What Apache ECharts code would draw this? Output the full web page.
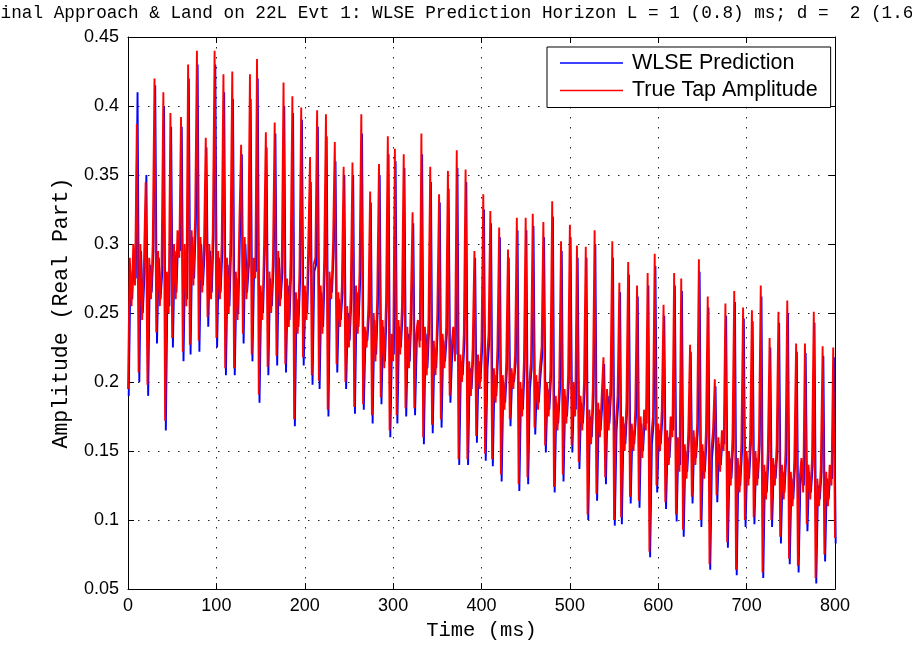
<!DOCTYPE html>
<html>
<head>
<meta charset="utf-8">
<title>WLSE Prediction</title>
<script src="https://cdn.jsdelivr.net/npm/echarts@6/dist/echarts.min.js"></script>
<style>
html, body { margin: 0; padding: 0; background: #fff; }
#chart { width: 912px; height: 646px; }
</style>
</head>
<body>
<div id="chart"></div>
<script>
// 标题和图例
var titleText = 'Final Approach & Land on 22L Evt 1: WLSE Prediction Horizon L = 1 (0.8) ms; d =  2 (1.6) ms';
var seriesNames = ['WLSE Prediction', 'True Tap Amplitude'];

// 坐标轴范围
var xRange = [0, 800, 100];
var yRange = [0.05, 0.45, 0.05];

// 采样间隔 (ms)，预测曲线相对真实曲线的时移 (ms)
var sampleMs = 2;
var predLagMs = 0.8;

// 真实抽头幅度 (从图上读出，每 2 ms 一个点)
var trueAmp = [
    .195,.29,.255,.30,.27,.387,.207,.30,.245,.285,.345,.198,.29,.26,.30,.42,.236,.295,.255,.285,.41,.172,.28,.25,.395,
    .232,.30,.26,.31,.29,.392,.222,.30,.255,.43,.227,.31,.27,.32,.44,.23,.305,.265,.30,.377,.247,.30,.26,.31,.44,
    .232,.295,.26,.30,.423,.21,.29,.25,.305,.425,.21,.28,.245,.315,.372,.235,.305,.26,.29,.423,.22,.29,.275,.434,.191,
    .27,.245,.30,.381,.211,.28,.25,.29,.388,.219,.295,.255,.285,.417,.213,.275,.24,.29,.407,.173,.265,.235,.28,.399,.218,
    .27,.245,.30,.363,.205,.285,.29,.397,.201,.27,.235,.29,.394,.18,.28,.26,.30,.374,.213,.265,.24,.27,.356,.20,.255,
    .225,.265,.359,.182,.27,.235,.28,.394,.184,.24,.225,.255,.338,.176,.25,.215,.262,.358,.189,.245,.21,.26,.378,.165,.235,
    .215,.369,.176,.245,.22,.255,.365,.181,.24,.21,.255,.323,.181,.235,.245,.225,.38,.16,.24,.205,.245,.356,.169,.23,.205,
    .25,.336,.173,.235,.21,.24,.353,.19,.225,.24,.215,.368,.144,.22,.20,.235,.354,.144,.215,.19,.225,.295,.161,.22,.195,
    .23,.336,.148,.215,.235,.324,.144,.21,.185,.225,.312,.133,.205,.18,.215,.296,.173,.21,.195,.22,.319,.126,.20,.175,.215,
    .319,.131,.20,.215,.322,.167,.205,.18,.21,.225,.316,.154,.20,.175,.21,.331,.124,.19,.165,.20,.302,.133,.195,.17,.205,
    .314,.154,.20,.175,.299,.142,.19,.165,.20,.298,.104,.18,.155,.195,.31,.119,.185,.16,.19,.218,.131,.195,.165,.20,.302,
    .10,.17,.19,.272,.102,.175,.15,.185,.287,.117,.17,.15,.18,.27,.114,.175,.145,.18,.165,.279,.077,.16,.175,.293,.125,
    .17,.15,.18,.256,.113,.165,.14,.175,.16,.279,.104,.16,.135,.275,.093,.155,.13,.165,.227,.117,.165,.14,.17,.289,.10,
    .155,.13,.165,.262,.068,.15,.165,.202,.118,.16,.135,.165,.15,.257,.084,.15,.125,.16,.266,.064,.145,.12,.155,.254,.10,
    .15,.125,.16,.252,.102,.15,.125,.16,.27,.062,.14,.115,.15,.232,.10,.145,.125,.155,.251,.088,.14,.115,.15,.259,.072,
    .135,.11,.145,.228,.067,.13,.145,.12,.228,.097,.14,.115,.145,.251,.058,.13,.11,.14,.226,.075,.135,.11,.14,.125,.225,
    .087
];

// WLSE 预测值
var predAmp = [
    .19,.28,.26,.295,.275,.41,.20,.295,.25,.28,.35,.19,.285,.265,.295,.415,.228,.29,.26,.28,.40,.165,.275,.255,.385,
    .225,.295,.265,.305,.295,.385,.215,.295,.26,.42,.22,.305,.275,.315,.43,.222,.30,.27,.295,.37,.24,.295,.265,.305,.43,
    .225,.29,.265,.295,.41,.205,.285,.255,.30,.405,.205,.275,.25,.31,.365,.228,.30,.265,.285,.405,.215,.285,.28,.42,.185,
    .265,.25,.295,.37,.205,.275,.255,.285,.38,.212,.29,.26,.28,.40,.207,.27,.245,.285,.395,.168,.26,.24,.275,.39,.212,
    .265,.25,.295,.345,.198,.28,.285,.385,.195,.265,.24,.285,.378,.175,.275,.265,.295,.36,.207,.26,.245,.265,.35,.195,.25,
    .23,.26,.35,.177,.265,.24,.275,.38,.18,.235,.23,.25,.33,.17,.245,.22,.257,.35,.184,.24,.215,.255,.365,.16,.23,
    .22,.36,.17,.24,.225,.25,.355,.175,.235,.215,.25,.315,.176,.23,.24,.23,.365,.155,.235,.21,.24,.345,.163,.225,.21,
    .245,.33,.167,.23,.215,.235,.34,.185,.22,.235,.22,.355,.14,.215,.205,.23,.345,.14,.21,.195,.22,.29,.156,.215,.20,
    .225,.325,.143,.21,.23,.315,.139,.205,.19,.22,.305,.128,.20,.185,.21,.29,.168,.205,.20,.215,.31,.121,.195,.18,.21,
    .31,.126,.195,.21,.313,.162,.20,.185,.205,.22,.305,.149,.195,.18,.205,.32,.12,.185,.17,.195,.295,.128,.19,.175,.20,
    .305,.149,.195,.18,.29,.137,.185,.17,.195,.29,.10,.175,.16,.19,.30,.114,.18,.165,.185,.213,.126,.19,.17,.195,.29,
    .096,.165,.185,.265,.097,.17,.155,.18,.278,.112,.165,.155,.175,.262,.109,.17,.15,.175,.17,.27,.073,.155,.17,.284,.12,
    .165,.155,.175,.248,.108,.16,.145,.17,.165,.27,.099,.155,.14,.266,.088,.15,.135,.16,.222,.112,.16,.145,.165,.28,.095,
    .15,.135,.16,.254,.064,.145,.16,.197,.113,.155,.14,.16,.155,.248,.08,.145,.13,.155,.258,.06,.14,.125,.15,.246,.095,
    .145,.13,.155,.244,.097,.145,.13,.155,.262,.058,.135,.12,.145,.225,.095,.14,.13,.15,.243,.083,.135,.12,.145,.25,.068,
    .13,.115,.14,.222,.062,.125,.14,.125,.221,.092,.135,.12,.14,.243,.054,.125,.115,.135,.219,.07,.13,.115,.135,.13,.218,
    .083
];

// 把数值配上时间
function buildSeriesData (values, offsetMs) {
    var arr = [];
    values.forEach(function (v, i) {
        arr.push([i * sampleMs + offsetMs, v]);
    });
    return arr;
}

// 公共坐标轴样式
function axisBase (range) {
    return {
        type: 'value',
        min: range[0],
        max: range[1],
        interval: range[2],
        axisLine: { onZero: false, lineStyle: { color: '#000', width: 1 } },
        axisTick: { inside: true, length: 6, lineStyle: { color: '#000' } },
        axisLabel: { fontFamily: 'Liberation Sans', fontSize: 18, color: '#000' },
        splitLine: { show: false }
    };
}

var gridDots = { color: '#222', type: [1.5, 8.5], width: 1 };

function renderChart () {
    var chart = echarts.init(document.getElementById('chart'));

    var xBottom = axisBase(xRange);
    xBottom.position = 'bottom';
    xBottom.name = 'Time (ms)';
    xBottom.nameLocation = 'middle';
    xBottom.nameGap = 30;
    xBottom.nameTextStyle = { fontFamily: 'Liberation Mono', fontSize: 20.5, color: '#000' };
    xBottom.axisLabel.margin = 8;
    xBottom.splitLine = { show: true, lineStyle: gridDots };

    var xTop = axisBase(xRange);
    xTop.position = 'top';
    xTop.axisLabel = { show: false };

    var yLeft = axisBase(yRange);
    yLeft.position = 'left';
    yLeft.name = 'Amplitude (Real Part)';
    yLeft.nameLocation = 'middle';
    yLeft.nameGap = 56;
    yLeft.nameTextStyle = { fontFamily: 'Liberation Mono', fontSize: 21.5, color: '#000' };
    yLeft.axisLabel.margin = 9;
    yLeft.splitLine = { show: true, lineStyle: gridDots };

    var yRight = axisBase(yRange);
    yRight.position = 'right';
    yRight.axisLabel = { show: false };

    var option = {
        animation: false,
        backgroundColor: '#fff',
        // 标题两头被裁掉，用 graphic 放在负坐标
        graphic: [{
            type: 'text',
            x: -10,
            y: 4,
            style: {
                text: titleText,
                fontFamily: 'Liberation Mono',
                fontSize: 17.7,
                fill: '#000'
            }
        }],
        grid: { left: 128, top: 37, width: 707, height: 557, containLabel: false },
        legend: {
            data: seriesNames,
            orient: 'vertical',
            left: 547,
            top: 47,
            padding: [5, 13, 6, 13],
            itemGap: 5.5,
            itemWidth: 63,
            itemHeight: 1.5,
            icon: 'rect',
            backgroundColor: '#fff',
            borderColor: '#000',
            borderWidth: 1,
            borderRadius: 0,
            textStyle: { fontFamily: 'Liberation Sans', fontSize: 21.5, color: '#000', padding: [0, 0, 0, 4] }
        },
        xAxis: [xBottom, xTop],
        yAxis: [yLeft, yRight],
        series: [
            {
                name: seriesNames[0],
                type: 'line',
                showSymbol: false,
                data: buildSeriesData(predAmp, predLagMs),
                lineStyle: { color: '#0000ff', width: 1.9 },
                itemStyle: { color: '#0000ff' }
            },
            {
                name: seriesNames[1],
                type: 'line',
                showSymbol: false,
                data: buildSeriesData(trueAmp, 0),
                lineStyle: { color: '#ff0000', width: 1.9 },
                itemStyle: { color: '#ff0000' }
            }
        ]
    };
    chart.setOption(option);
}

renderChart();
</script>
</body>
</html>
